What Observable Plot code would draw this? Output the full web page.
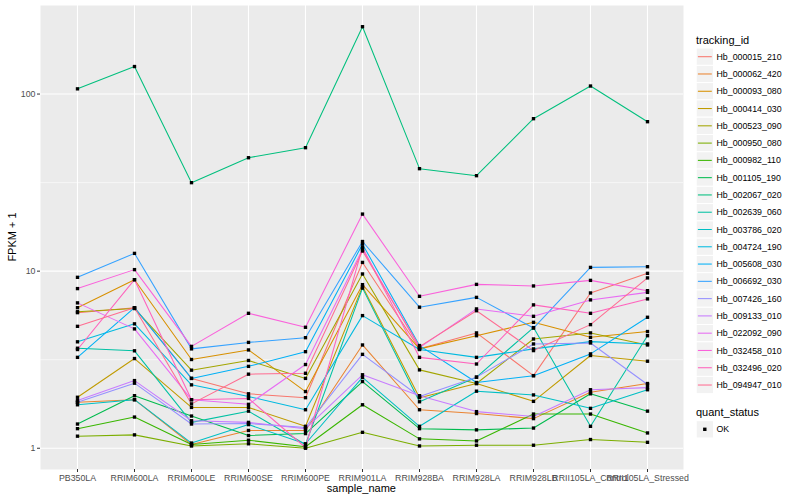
<!DOCTYPE html>
<html>
<head>
<meta charset="utf-8">
<script src="https://cdn.jsdelivr.net/npm/d3@7"></script>
<script src="https://cdn.jsdelivr.net/npm/@observablehq/plot@0.6"></script>
<style>
  body { margin: 0; background: white; }
  #wrap { position: relative; width: 800px; height: 500px; background: white; }
  #wrap svg { display: block; }
</style>
</head>
<body>
<div id="wrap"></div>
<script>
const samples = ["PB350LA","RRIM600LA","RRIM600LE","RRIM600SE","RRIM600PE","RRIM901LA","RRIM928BA","RRIM928LA","RRIM928LB","RRII105LA_Control","RRII105LA_Stressed"];

const trackingIds = ["Hb_000015_210","Hb_000062_420","Hb_000093_080","Hb_000414_030","Hb_000523_090","Hb_000950_080","Hb_000982_110","Hb_001105_190","Hb_002067_020","Hb_002639_060","Hb_003786_020","Hb_004724_190","Hb_005608_030","Hb_006692_030","Hb_007426_160","Hb_009133_010","Hb_022092_090","Hb_032458_010","Hb_032496_020","Hb_094947_010"];

const hueColors = ["#F8766D","#EA8331","#D89000","#C09B00","#A3A500","#7CAE00","#39B600","#00BB4E","#00BF7D","#00C1A3","#00BFC4","#00BAE0","#00B0F6","#35A2FF","#9590FF","#C77CFF","#E76BF3","#FA62DB","#FF62BC","#FF6C91"];

// FPKM + 1 per sample, in the order of `samples`
const hb_000015_210 = [5.83, 6.22, 2.48, 2.03, 1.93, 11.2, 3.65, 4.48, 2.57, 7.53, 9.72];
const hb_000062_420 = [1.82, 1.88, 1.05, 1.26, 1.26, 3.83, 1.65, 1.57, 1.47, 2.07, 2.32];
const hb_000093_080 = [6.22, 8.95, 3.17, 3.59, 2.09, 8.39, 3.64, 4.32, 5.14, 4.23, 4.56];
const hb_000414_030 = [1.94, 3.21, 1.70, 1.70, 1.33, 8.18, 1.93, 2.32, 1.84, 3.34, 3.10];
const hb_000523_090 = [5.90, 6.15, 2.76, 3.13, 2.48, 9.64, 2.77, 2.32, 4.14, 4.48, 3.83];
const hb_000950_080 = [1.17, 1.19, 1.03, 1.06, 1.00, 1.23, 1.03, 1.04, 1.04, 1.12, 1.08];
const hb_000982_110 = [1.29, 1.50, 1.05, 1.11, 1.02, 1.76, 1.13, 1.10, 1.56, 1.56, 1.22];
const hb_001105_190 = [1.37, 1.98, 1.52, 1.18, 1.21, 2.38, 1.29, 1.27, 1.30, 2.03, 1.62];
const hb_002067_020 = [107, 143, 31.6, 43.7, 49.8, 240, 37.9, 34.6, 72.6, 111, 69.8];
const hb_002639_060 = [3.67, 3.55, 1.40, 1.62, 1.05, 8.02, 1.83, 2.52, 4.80, 1.33, 4.32];
const hb_003786_020 = [1.76, 1.88, 1.07, 1.36, 1.06, 2.51, 1.33, 2.10, 2.00, 1.68, 2.14];
const hb_004724_190 = [3.99, 5.04, 2.28, 1.96, 1.65, 5.61, 3.61, 3.26, 3.64, 4.00, 3.88];
const hb_005608_030 = [3.26, 6.22, 2.48, 2.90, 3.51, 14.2, 3.80, 2.35, 2.57, 3.41, 5.49];
const hb_006692_030 = [9.23, 12.6, 3.64, 3.96, 4.21, 14.7, 6.26, 7.11, 4.77, 10.5, 10.6];
const hb_007426_160 = [1.82, 2.33, 1.37, 1.38, 1.31, 3.39, 1.96, 2.52, 3.88, 3.93, 2.29];
const hb_009133_010 = [1.86, 2.41, 1.43, 1.40, 1.29, 2.60, 1.98, 1.61, 1.51, 2.14, 2.20];
const hb_022092_090 = [6.62, 4.72, 1.88, 1.77, 2.97, 13.3, 3.70, 6.12, 5.56, 6.88, 7.59];
const hb_032458_010 = [7.97, 10.2, 3.76, 5.78, 4.82, 21.0, 7.21, 8.42, 8.25, 8.87, 7.76];
const hb_032496_020 = [3.61, 8.95, 1.88, 1.91, 1.01, 13.6, 3.26, 2.99, 6.45, 5.78, 6.97];
const hb_094947_010 = [4.88, 6.22, 1.78, 2.62, 2.65, 13.0, 3.75, 5.98, 3.56, 4.99, 9.16];

const seriesValues = [hb_000015_210, hb_000062_420, hb_000093_080, hb_000414_030, hb_000523_090, hb_000950_080, hb_000982_110, hb_001105_190, hb_002067_020, hb_002639_060, hb_003786_020, hb_004724_190, hb_005608_030, hb_006692_030, hb_007426_160, hb_009133_010, hb_022092_090, hb_032458_010, hb_032496_020, hb_094947_010];

const yTicks = [1, 10, 100];
const yMinor = [Math.sqrt(10), Math.sqrt(1000)];
const quantStatus = ["OK"];

const data = trackingIds.flatMap((id, i) => samples.map((s, j) => ({id, sample: s, value: seriesValues[i][j], status: "OK"})));

const font = "'Liberation Sans', Arial, Helvetica, sans-serif";

const chart = Plot.plot({
  width: 690,
  height: 500,
  marginLeft: 40,
  marginRight: 7,
  marginTop: 5,
  marginBottom: 31,
  style: {fontFamily: font, background: "white", overflow: "visible"},
  x: {type: "point", domain: samples, padding: 0.6, label: null},
  y: {type: "log", domain: [Math.pow(10, -0.12), Math.pow(10, 2.5)], label: null},
  color: {domain: trackingIds, range: hueColors},
  marks: [
    Plot.frame({fill: "#EBEBEB", stroke: "none"}),
    Plot.ruleY(yMinor, {stroke: "white", strokeWidth: 0.55}),
    Plot.ruleY(yTicks, {stroke: "white", strokeWidth: 1.1}),
    Plot.ruleX(samples, {stroke: "white", strokeWidth: 1.1}),
    Plot.axisX({tickSize: 3, tickPadding: 2, fontSize: 8.8, color: "#4D4D4D", stroke: "#333333", label: null}),
    Plot.axisY({ticks: yTicks, tickFormat: d => String(d), tickSize: 3, tickPadding: 2, fontSize: 8.8, color: "#4D4D4D", stroke: "#333333", label: null}),
    Plot.lineY(data, {x: "sample", y: "value", z: "id", stroke: "id", strokeWidth: 1.05}),
    Plot.dot(data, {x: "sample", y: "value", symbol: "square", r: 1.9, fill: "black", stroke: "none"})
  ]
});

const wrap = document.getElementById("wrap");
wrap.appendChild(chart);

// axis titles and legends (drawn as SVG text on top)
const ov = d3.create("svg")
  .attr("width", 800).attr("height", 500)
  .style("position", "absolute").style("left", "0px").style("top", "0px")
  .style("pointer-events", "none")
  .style("font-family", font);

ov.append("text").attr("x", 361.4).attr("y", 492).attr("text-anchor", "middle")
  .attr("font-size", 11).attr("fill", "black").text("sample_name");
ov.append("text").attr("transform", "translate(16,237) rotate(-90)").attr("text-anchor", "middle")
  .attr("font-size", 11).attr("fill", "black").text("FPKM + 1");

ov.append("text").attr("x", 696).attr("y", 44).attr("font-size", 11).attr("fill", "black").text("tracking_id");
const keySize = 17.28;
trackingIds.forEach((id, i) => {
  const cy = 56.7 + i * keySize;
  ov.append("rect").attr("x", 696.2).attr("y", cy - keySize / 2).attr("width", keySize).attr("height", keySize)
    .attr("fill", "#F2F2F2").attr("stroke", "white").attr("stroke-width", 1);
  ov.append("line").attr("x1", 697.9).attr("x2", 711.8).attr("y1", cy).attr("y2", cy)
    .attr("stroke", hueColors[i]).attr("stroke-width", 1.05);
  ov.append("text").attr("x", 716.5).attr("y", cy).attr("dy", "0.35em").attr("font-size", 8.8)
    .attr("fill", "black").text(id);
});

ov.append("text").attr("x", 696).attr("y", 415.5).attr("font-size", 11).attr("fill", "black").text("quant_status");
quantStatus.forEach((q, i) => {
  const cy = 429.3 + i * keySize;
  ov.append("rect").attr("x", 696.2).attr("y", cy - keySize / 2).attr("width", keySize).attr("height", keySize)
    .attr("fill", "#F2F2F2").attr("stroke", "white").attr("stroke-width", 1);
  ov.append("rect").attr("x", 703.1).attr("y", cy - 1.7).attr("width", 3.4).attr("height", 3.4).attr("fill", "black");
  ov.append("text").attr("x", 716.5).attr("y", cy).attr("dy", "0.35em").attr("font-size", 8.8)
    .attr("fill", "black").text(q);
});

wrap.appendChild(ov.node());
</script>
</body>
</html>
